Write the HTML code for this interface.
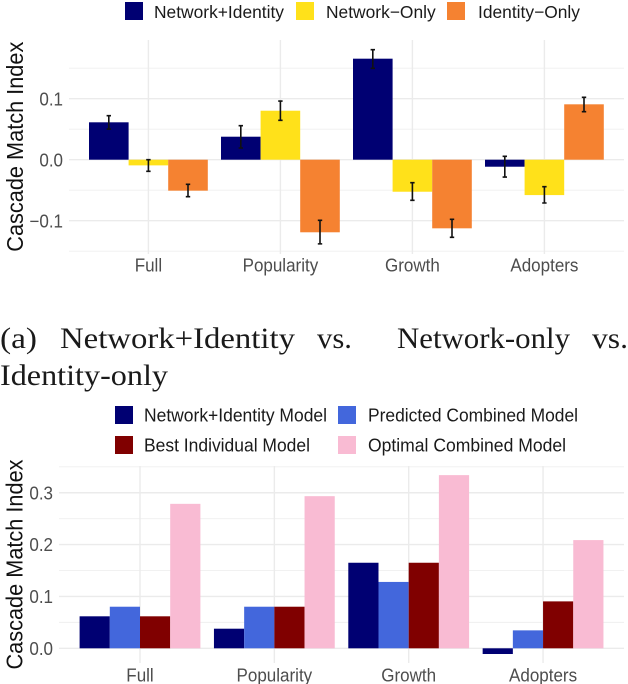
<!DOCTYPE html>
<html lang="en">
<head>
<meta charset="utf-8">
<title>Cascade Match Index charts</title>
<style>
html,body{margin:0;padding:0;background:#fff;}
body{width:628px;height:684px;overflow:hidden;}
svg{display:block;font-family:"Liberation Sans",sans-serif;}
</style>
</head>
<body>
<svg id="figure" width="628" height="684" viewBox="0 0 628 684" xmlns="http://www.w3.org/2000/svg">
  <g font-family="'Liberation Serif',serif" font-size="30" fill="#1a1a1a">
    <text x="0" y="348" textLength="37" lengthAdjust="spacingAndGlyphs">(a)</text>
    <text x="60" y="348" textLength="235" lengthAdjust="spacingAndGlyphs">Network+Identity</text>
    <text x="317" y="348" textLength="35" lengthAdjust="spacingAndGlyphs">vs.</text>
    <text x="397" y="348" textLength="173" lengthAdjust="spacingAndGlyphs">Network-only</text>
    <text x="592" y="348" textLength="36" lengthAdjust="spacingAndGlyphs">vs.</text>
    <text x="0" y="385" textLength="168" lengthAdjust="spacingAndGlyphs">Identity-only</text>
  </g>
  <g id="top-chart"></g>
  <g id="bottom-chart"></g>
  <g font-size="17.4" fill="#1a1a1a">
    <rect x="125" y="2" width="18" height="18" fill="#000072"/>
    <text x="154" y="18">Network+Identity</text>
    <rect x="296" y="2" width="18" height="18" fill="#FFE11A"/>
    <text x="326" y="18">Network−Only</text>
    <rect x="447" y="2" width="18" height="18" fill="#F58231"/>
    <text x="478" y="18">Identity−Only</text>
  </g>
  <g font-size="18.5" fill="#1a1a1a">
    <rect x="115" y="406" width="18" height="18" fill="#000072"/>
    <text x="144" y="421.5" textLength="183" lengthAdjust="spacingAndGlyphs">Network+Identity Model</text>
    <rect x="338" y="406" width="18" height="18" fill="#4367DC"/>
    <text x="368" y="421.5" textLength="210" lengthAdjust="spacingAndGlyphs">Predicted Combined Model</text>
    <rect x="115" y="436" width="18" height="18" fill="#800000"/>
    <text x="144" y="451.5" textLength="166" lengthAdjust="spacingAndGlyphs">Best Individual Model</text>
    <rect x="338" y="436" width="18" height="18" fill="#F9BBD3"/>
    <text x="368" y="451.5" textLength="198" lengthAdjust="spacingAndGlyphs">Optimal Combined Model</text>
  </g>
</svg>
<script>
const categories = ["Full", "Popularity", "Growth", "Adopters"];

const topSeriesNames = ["network-identity", "network-only", "identity-only"];
const networkIdentity = [0.0613, 0.0377, 0.1656, -0.0115];
const networkOnly = [-0.0093, 0.0803, -0.0525, -0.058];
const identityOnly = [-0.0508, -0.119, -0.1125, 0.0908];
const networkIdentityLow = [0.0503, 0.0192, 0.1498, -0.0284];
const networkIdentityHigh = [0.0721, 0.0557, 0.1803, 0.0056];
const networkOnlyLow = [-0.019, 0.0646, -0.0666, -0.071];
const networkOnlyHigh = [0, 0.0962, -0.0377, -0.0443];
const identityOnlyLow = [-0.0607, -0.138, -0.1272, 0.0787];
const identityOnlyHigh = [-0.0403, -0.0993, -0.0977, 0.1023];
const topTicks = [-0.1, 0, 0.1];
const topTickLabels = ["−0.1", "0.0", "0.1"];
const topMinorTicks = [-0.15, -0.05, 0.05, 0.15];

const bottomSeriesNames = ["network-identity-model", "predicted-combined-model", "best-individual-model", "optimal-combined-model"];
const networkIdentityModel = [0.0617, 0.0378, 0.165, -0.011];
const predictedCombined = [0.0802, 0.0802, 0.128, 0.0346];
const bestIndividual = [0.0617, 0.0802, 0.165, 0.0905];
const optimalCombined = [0.2786, 0.2934, 0.334, 0.2087];
const bottomTicks = [0, 0.1, 0.2, 0.3];
const bottomTickLabels = ["0.0", "0.1", "0.2", "0.3"];
const bottomMinorTicks = [0.05, 0.15, 0.25, 0.35];

const SVG_NS = "http://www.w3.org/2000/svg";

function make(parent, tag, props, text) {
  const el = document.createElementNS(SVG_NS, tag);
  for (const key in props) el.setAttribute(key, props[key]);
  if (text !== undefined) el.textContent = text;
  parent.appendChild(el);
  return el;
}

function drawFrame(g, cfg) {
  const { xOf, yOf } = cfg;
  cfg.minor.forEach(function (v) {
    const line = make(g, "line", { x1: cfg.left, x2: cfg.right, y1: yOf(v), y2: yOf(v), stroke: "#efefef", "stroke-width": 0.9 });
    
    
  });
  cfg.ticks.forEach(function (v, i) {
    const line = make(g, "line", { x1: cfg.left, x2: cfg.right, y1: yOf(v), y2: yOf(v), stroke: "#ebebeb", "stroke-width": 1.4 });
    
    
    const label = make(g, "text", { transform: "translate(" + cfg.tickX + " " + (yOf(v) + 6.6) + ") scale(0.93 1)", "text-anchor": "end", "font-size": 18.3, fill: "#4d4d4d" }, cfg.tickLabels[i]);
    
    
  });
  categories.forEach(function (c, i) {
    const line = make(g, "line", { x1: xOf(i), x2: xOf(i), y1: cfg.top, y2: cfg.gridBottom, stroke: "#ebebeb", "stroke-width": 1.4 });
    
    
    const label = make(g, "text", { transform: "translate(" + xOf(i) + " " + cfg.catY + ") scale(0.93 1)", "text-anchor": "middle", "font-size": 18.3, fill: "#4d4d4d" }, c);
    
    
  });
  const title = make(g, "text", { transform: "translate(" + cfg.titleX + " " + cfg.titleY + ") rotate(-90)", "text-anchor": "middle", "font-size": 23, textLength: 210, lengthAdjust: "spacingAndGlyphs", fill: "#111" }, "Cascade Match Index");
  
  
}

function drawBars(g, cfg, seriesList, names, colors) {
  const n = seriesList.length;
  seriesList.forEach(function (values, s) {
    values.forEach(function (v, i) {
      const x = cfg.xOf(i) + (s - n / 2) * cfg.barW;
      const y0 = cfg.yOf(0);
      const y1 = cfg.yOf(v);
      const bar = make(g, "rect", { x: x, y: Math.min(y0, y1), width: cfg.barW, height: Math.abs(y1 - y0), fill: colors[s] });
      
      
    });
  });
}

function drawErrors(g, cfg, lows, highs, names) {
  const n = lows.length;
  lows.forEach(function (low, s) {
    low.forEach(function (v, i) {
      const cx = cfg.xOf(i) + (s - n / 2 + 0.5) * cfg.barW;
      const yl = cfg.yOf(v);
      const yh = cfg.yOf(highs[s][i]);
      const d = "M" + cx + " " + yl + "V" + yh + "M" + (cx - 2.2) + " " + yl + "H" + (cx + 2.2) + "M" + (cx - 2.2) + " " + yh + "H" + (cx + 2.2);
      const err = make(g, "path", { d: d, fill: "none", stroke: "#111", "stroke-width": 1.6 });
      
      
    });
  });
}

const topCfg = {
  left: 69, right: 624, top: 40, gridBottom: 254, tickX: 63, catY: 271.5, titleX: 23, titleY: 146.7,
  barW: 39.6, ticks: topTicks, tickLabels: topTickLabels, minor: topMinorTicks,
  xOf: function (i) { return 148.4 + i * 132; },
  yOf: function (v) { return 159.7 - v * 610; }
};
const topGroup = document.getElementById("top-chart");
drawFrame(topGroup, topCfg);
drawBars(topGroup, topCfg, [networkIdentity, networkOnly, identityOnly], topSeriesNames, ["#000072", "#FFE11A", "#F58231"]);
drawErrors(topGroup, topCfg, [networkIdentityLow, networkOnlyLow, identityOnlyLow], [networkIdentityHigh, networkOnlyHigh, identityOnlyHigh], topSeriesNames);

const bottomCfg = {
  left: 59, right: 624, top: 466, gridBottom: 663, tickX: 53, catY: 681.5, titleX: 22.7, titleY: 564.5,
  barW: 30.2, ticks: bottomTicks, tickLabels: bottomTickLabels, minor: bottomMinorTicks,
  xOf: function (i) { return 140 + i * 134.35; },
  yOf: function (v) { return 648.3 - v * 518.5; }
};
const bottomGroup = document.getElementById("bottom-chart");
drawFrame(bottomGroup, bottomCfg);
drawBars(bottomGroup, bottomCfg, [networkIdentityModel, predictedCombined, bestIndividual, optimalCombined], bottomSeriesNames, ["#000072", "#4367DC", "#800000", "#F9BBD3"]);
</script>
</body>
</html>
